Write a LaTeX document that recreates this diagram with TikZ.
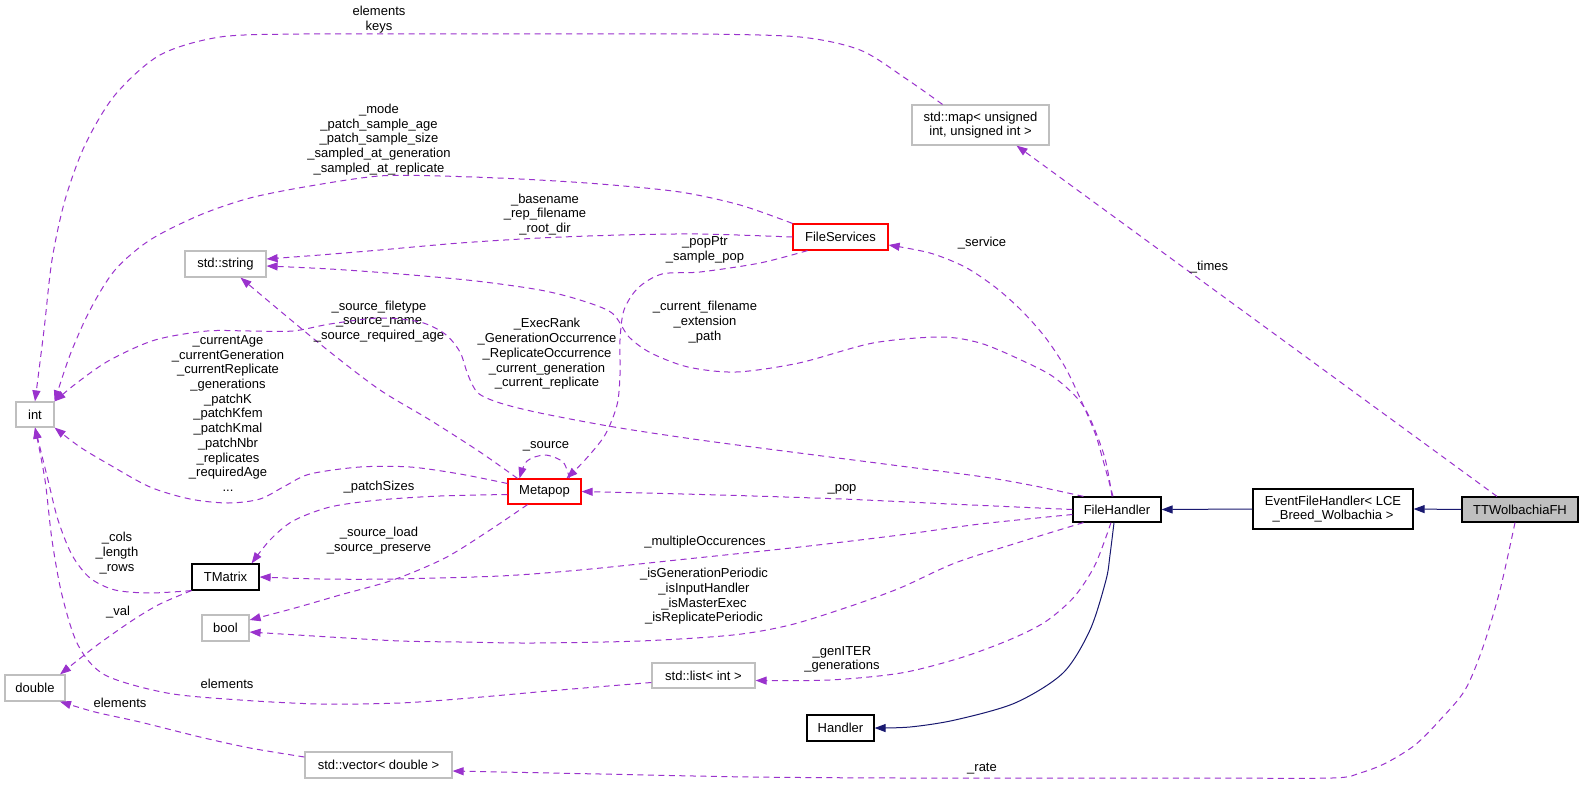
\documentclass[tikz,border=0pt]{standalone}
\usepackage{fontspec}
\setmainfont{Liberation Sans}
\usetikzlibrary{arrows.meta}
\definecolor{depc}{HTML}{9A32CD}
\definecolor{inhc}{HTML}{191970}
\definecolor{gbox}{HTML}{BFBFBF}
\begin{document}
\begin{tikzpicture}[x=1pt,y=-1pt,
  font=\fontsize{13}{14.7}\selectfont,
  cls/.style={draw=black, line width=1.2pt, inner sep=0pt, align=center},
  boxext/.style={cls, draw=gbox},
  boxred/.style={cls, draw=red},
  lbl/.style={inner sep=0pt, align=center},
  dep/.style={draw=depc, line width=1pt, dash pattern=on 6pt off 4.5pt, -{Triangle[length=11pt,width=8pt]}},
  inh/.style={draw=inhc, line width=1pt, -{Triangle[length=11pt,width=8pt]}}]
\useasboundingbox[fill=white] (0,0) rectangle (1584,784);

% nodes
\node[boxext, minimum width=137pt, minimum height=40pt] (map) at (980.5,125) {std::map\textless{} unsigned\\int, unsigned int \textgreater};
\node[boxred, minimum width=95pt, minimum height=26pt] (fsvc) at (840.5,237) {FileServices};
\node[boxext, minimum width=81pt, minimum height=26pt] (str) at (225.5,264) {std::string};
\node[boxext, minimum width=38pt, minimum height=25pt] (int) at (35,414.5) {int};
\node[boxred, minimum width=73pt, minimum height=25pt] (meta) at (544.5,491.5) {Metapop};
\node[cls, minimum width=67pt, minimum height=26pt] (tmat) at (225.5,577) {TMatrix};
\node[boxext, minimum width=47pt, minimum height=26pt] (bool) at (225.5,628) {bool};
\node[boxext, minimum width=60pt, minimum height=26pt] (dbl) at (35,688) {double};
\node[boxext, minimum width=103pt, minimum height=25pt] (list) at (703.5,675.5) {std::list\textless{} int \textgreater};
\node[boxext, minimum width=147pt, minimum height=26pt] (vec) at (378.5,765) {std::vector\textless{} double \textgreater};
\node[cls, minimum width=67pt, minimum height=26pt] (handler) at (840.5,728) {Handler};
\node[cls, minimum width=88pt, minimum height=25pt] (fh) at (1117,509.5) {FileHandler};
\node[cls, minimum width=160pt, minimum height=40pt] (efh) at (1333,509) {EventFileHandler\textless{} LCE\\\_Breed\_Wolbachia \textgreater};
\node[cls, fill=gbox, minimum width=116pt, minimum height=25pt] (ttw) at (1520,509.5) {TTWolbachiaFH};

% inheritance
\draw[inh] (efh.west) -- (fh.east);
\draw[inh] (ttw.west) -- (efh.east);
\draw[inh] plot[smooth] coordinates {([xshift=-3pt]fh.south) (1110,555) (1106,580) (1090,630) (1063,673) (1015,703) (955,720) (910,727) (handler.east)};

% E1 map -> int
\draw[dep] plot[smooth] coordinates {([xshift=-38pt]map.north) (905,78) (860,50) (800,37) (700,34) (600,34) (500,34) (400,34) (300,34) (220,37) (160,55) (115,95) (85,145) (65,200) (52,260) (44,330) (int.north)};
\node[lbl] (l1) at (379,19.5) {elements\\keys};
% E2 fsvc -> int
\draw[dep] plot[smooth] coordinates {(fsvc.north west) (740,205) (680,192) (600,184) (520,179) (440,176) (379,176) (310,186) (250,198) (200,215) (150,240) (115,270) (90,310) (70,355) (int.north east)};
\node[lbl] (l2) at (379,139.5) {\_mode\\\_patch\_sample\_age\\\_patch\_sample\_size\\\_sampled\_at\_generation\\\_sampled\_at\_replicate};
% E3 meta -> int
\draw[dep] plot[smooth] coordinates {([yshift=8pt]meta.west) (460,474) (410,467) (360,467) (310,474) (285,486) (260,499) (228,503) (190,499) (150,487) (110,465) (80,447) (int.south east)};
\node[lbl] (l3) at (228,413.5) {\_currentAge\\\_currentGeneration\\\_currentReplicate\\\_generations\\\_patchK\\\_patchKfem\\\_patchKmal\\\_patchNbr\\\_replicates\\\_requiredAge\\...};
% E4 tmat -> int
\draw[dep] plot[smooth] coordinates {(tmat.south west) (150,593) (115,590) (90,578) (72,555) (58,520) (48,480) (int.south)};
\node[lbl] (l4) at (117,553) {\_cols\\\_length\\\_rows};
% E5 list -> int
\draw[dep] plot[smooth] coordinates {([yshift=-7pt]list.west) (560,690) (470,698) (400,703) (320,704) (240,700) (167,693) (105,675) (78,645) (62,595) (52,540) (45,480) (int.south)};
\node[lbl] (l5) at (227,684) {elements};
% E6 fsvc -> str
\draw[dep] plot[smooth] coordinates {(fsvc.west) (700,234) (620,235) (540,238) (460,243) (380,250) (320,255) ([yshift=5pt]str.east)};
\node[lbl] (l6) at (545,214.5) {\_basename\\\_rep\_filename\\\_root\_dir};
% E7 fh -> str
\draw[dep] plot[smooth] coordinates {([xshift=-5pt]fh.north) (1104,455) (1084,407) (1055,378) (1021,360) (980,343) (940,337) (873,343) (799,363) (736,372) (688,367) (651,353) (629,337) (612,313) (580,300) (540,290) (476,281) (400,274) (330,269) ([yshift=-2pt]str.east)};
\node[lbl] (l7) at (705,322) {\_current\_filename\\\_extension\\\_path};
% E8 meta -> str
\draw[dep] plot[smooth] coordinates {([xshift=-27pt]meta.north) (480,452) (430,420) (380,390) (330,352) (285,315) ([xshift=15pt]str.south)};
\node[lbl] (l8) at (379,321.5) {\_source\_filetype\\\_source\_name\\\_source\_required\_age};
% E9 fsvc -> meta
\draw[dep] plot[smooth] coordinates {([xshift=-33pt]fsvc.south) (760,263) (700,272) (662,274) (638,288) (624,310) (620,340) (620,375) (617,405) (605,435) (585,460) ([xshift=22pt]meta.north)};
\node[lbl] (l9) at (705,250) {\_popPtr\\\_sample\_pop};
% E10 fh -> meta
\draw[dep] plot[smooth] coordinates {(fh.west) (950,504) (842,499) (720,495) (meta.east)};
\node[lbl] (l10) at (842,489) {\_pop};
% E11 self loop
\draw[dep] plot[smooth] coordinates {([xshift=25pt]meta.north) (563,462) (545,455) (527,461) ([xshift=-25pt]meta.north)};
\node[lbl] (l11) at (546,446) {\_source};
% E12 fh -> int
\draw[dep] plot[smooth] coordinates {([xshift=11pt]fh.north west) (1035,486) (984,477) (900,466) (799,453) (700,440) (614,427) (540,413) (500,403) (478,393) (468,375) (460,352) (445,334) (420,322) (379,318) (330,324) (293,331) (250,331) (207,331) (155,340) (110,360) (78,382) (int.north east)};
\node[lbl] (l12) at (547,354) {\_ExecRank\\\_GenerationOccurrence\\\_ReplicateOccurrence\\\_current\_generation\\\_current\_replicate};
% E13 meta -> tmat
\draw[dep] plot[smooth] coordinates {([yshift=-3pt]meta.west) (440,496) (379,500) (330,507) (293,521) (270,540) ([xshift=-8pt]tmat.north east)};
\node[lbl] (l13) at (379,487) {\_patchSizes};
% E14 meta -> bool
\draw[dep] plot[smooth] coordinates {([xshift=-17pt]meta.south) (490,530) (445,558) (393,580) (340,595) (295,608) ([yshift=8pt]bool.east)};
\node[lbl] (l14) at (379,540.5) {\_source\_load\\\_source\_preserve};
% E15 fh -> fsvc
\draw[dep] plot[smooth] coordinates {([xshift=-4pt]fh.north) (1103,460) (1095,433) (1080,398) (1065,367) (1045,337) (1021,310) (995,287) (965,267) (930,253) ([yshift=-8pt]fsvc.east)};
\node[lbl] (l15) at (982,243) {\_service};
% E16 fh -> tmat
\draw[dep] plot[smooth] coordinates {([yshift=-5pt]fh.west) (980,524) (900,535) (800,547) (677,560) (580,570) (500,576) (393,579) (320,579) (tmat.east)};
\node[lbl] (l16) at (705,542) {\_multipleOccurences};
% E17 fh -> bool
\draw[dep] plot[smooth] coordinates {([xshift=11pt]fh.south west) (1020,542) (955,563) (900,588) (848,607) (790,625) (733,635) (640,641) (533,643) (460,642) (400,641) (330,637) ([yshift=-4pt]bool.east)};
\node[lbl] (l17) at (704,596.5) {\_isGenerationPeriodic\\\_isInputHandler\\\_isMasterExec\\\_isReplicatePeriodic};
% E18 fh -> list
\draw[dep] plot[smooth] coordinates {([xshift=-6pt]fh.south) (1095,565) (1074,597) (1045,622) (1009,640) (960,658) (901,673) (830,680) ([yshift=-5pt]list.east)};
\node[lbl] (l18) at (842,659.5) {\_genITER\\\_generations};
% E22 ttw -> map
\draw[dep] ([xshift=-23pt]ttw.north) -- ([xshift=36pt]map.south);
\node[lbl] (l22) at (1209,267) {\_times};
% E23 ttw -> vec
\draw[dep] plot[smooth] coordinates {([xshift=-5pt]ttw.south) (1500,590) (1483,647) (1465,690) (1440,720) (1415,745) (1386,763) (1360,773) (1332,778) (1200,778) (1050,778) (900,778) (750,777) (600,774) ([yshift=-6pt]vec.east)};
\node[lbl] (l23) at (982,769) {\_rate};
% E24 vec -> dbl
\draw[dep] plot[smooth] coordinates {([yshift=8pt]vec.west) (250,748) (200,737) (140,722) (95,712) ([xshift=25pt]dbl.south)};
\node[lbl] (l24) at (120,703) {elements};
% E25 tmat -> dbl
\draw[dep] plot[smooth] coordinates {(tmat.south west) (160,604) (133,620) (100,643) (78,660) ([xshift=25pt]dbl.north)};
\node[lbl] (l25) at (118,612) {\_val};
\end{tikzpicture}
\end{document}
